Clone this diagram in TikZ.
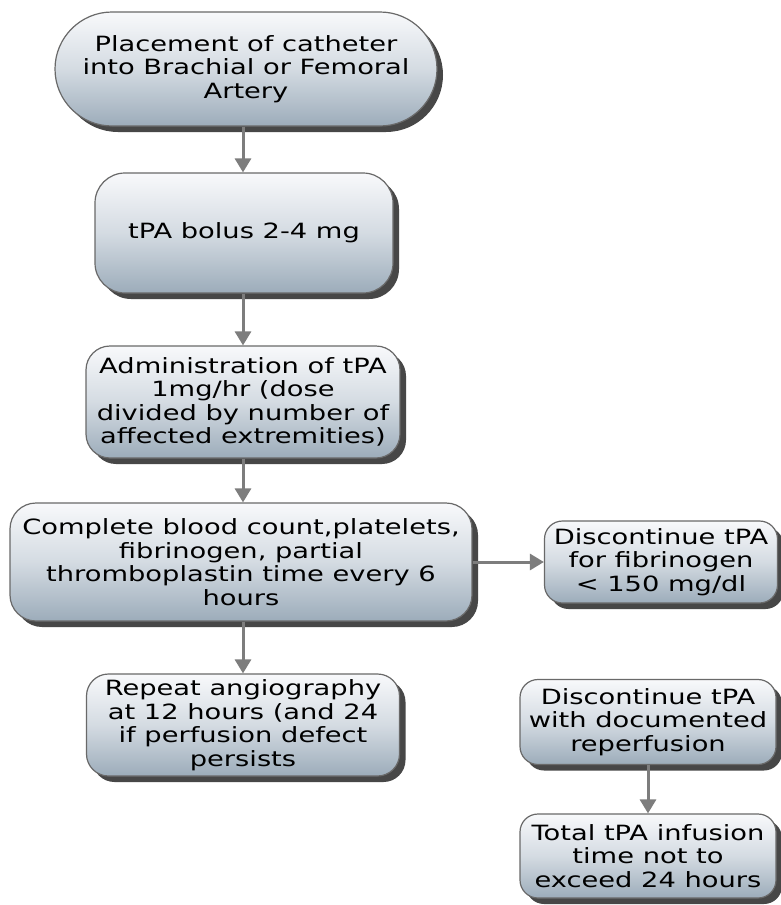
\documentclass[tikz,border=0pt]{standalone}
\usepackage{fontspec}
\setmainfont{DejaVu Sans}[FakeStretch=1.3]
\usetikzlibrary{arrows.meta,shadows}
\definecolor{boxtop}{RGB}{248,249,251}
\definecolor{boxmid}{RGB}{212,219,226}
\definecolor{boxbot}{RGB}{156,172,186}
\definecolor{boxline}{RGB}{105,105,105}
\definecolor{arrcol}{RGB}{125,125,125}
\begin{document}
\begin{tikzpicture}[x=1pt,y=-1pt,
  box/.style={draw=boxline, line width=1.2pt, top color=boxtop, bottom color=boxbot, middle color=boxmid,
    drop shadow={shadow xshift=6pt, shadow yshift=-6pt, fill=black!80, opacity=0.9},
    align=center, inner sep=0pt, text=black, font=\fontsize{21}{23.5}\selectfont},
  arr/.style={draw=arrcol, line width=3pt, -{Triangle[width=16pt,length=14pt,fill=arrcol]}}]
\useasboundingbox (0,0) rectangle (781,905);
\fill[white] (0,0) rectangle (781,905);

\node[box, minimum width=382pt, minimum height=114pt, rounded corners=57pt] (b1) at (246,69)
  {Placement of catheter\\into Brachial or Femoral\\Artery};
\node[box, minimum width=298pt, minimum height=120pt, rounded corners=30pt] (b2) at (244,233)
  {tPA bolus 2-4 mg};
\node[box, minimum width=314pt, minimum height=112pt, rounded corners=24pt] (b3) at (243,402)
  {Administration of tPA\\1mg/hr (dose\\divided by number of\\affected extremities)};
\node[box, minimum width=462pt, minimum height=118pt, rounded corners=26pt] (b4) at (241,562)
  {Complete blood count,platelets,\\fibrinogen, partial\\thromboplastin time every 6\\hours};
\node[box, minimum width=233pt, minimum height=82pt, rounded corners=18pt] (b5) at (661,562)
  {Discontinue tPA\\for fibrinogen\\< 150 mg/dl};
\node[box, minimum width=313pt, minimum height=102pt, rounded corners=22pt] (b6) at (243,725)
  {Repeat angiography\\at 12 hours (and 24\\if perfusion defect\\persists};
\node[box, minimum width=256pt, minimum height=85pt, rounded corners=18pt] (b7) at (648,722)
  {Discontinue tPA\\with documented\\reperfusion};
\node[box, minimum width=256pt, minimum height=84pt, rounded corners=18pt] (b8) at (648,856)
  {Total tPA infusion\\time not to\\exceed 24 hours};

\draw[arr] (b1.south -| 243,0) -- (b2.north -| 243,0);
\draw[arr] (b2.south -| 243,0) -- (b3.north -| 243,0);
\draw[arr] (b3.south -| 243,0) -- (b4.north -| 243,0);
\draw[arr] (b4.south -| 243,0) -- (b6.north -| 243,0);
\draw[arr] (b4.east) -- (b5.west);
\draw[arr] (b7) -- (b8);
\end{tikzpicture}
\end{document}
